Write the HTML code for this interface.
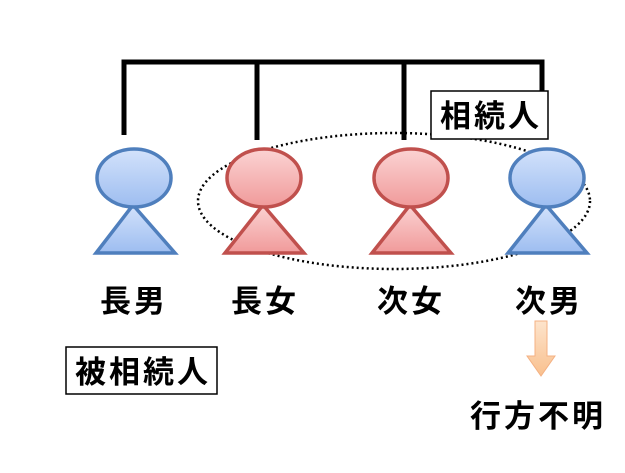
<!DOCTYPE html>
<html><head><meta charset="utf-8"><style>
html,body{margin:0;padding:0;background:#fff;}
</style></head><body>
<svg width="625" height="468" xmlns="http://www.w3.org/2000/svg" font-family="'Liberation Sans','Noto Sans CJK JP',sans-serif">
<defs>
<linearGradient id="b" x1="0" y1="0" x2="0" y2="1"><stop offset="0" stop-color="#d3e2fb"/><stop offset="1" stop-color="#9dbdf0"/></linearGradient>
<linearGradient id="r" x1="0" y1="0" x2="0" y2="1"><stop offset="0" stop-color="#fbd3d3"/><stop offset="1" stop-color="#f09a9a"/></linearGradient>
<linearGradient id="o" x1="0" y1="0" x2="0" y2="1"><stop offset="0" stop-color="#fde4cc"/><stop offset="1" stop-color="#f9c08e"/></linearGradient>
</defs>
<g stroke="#000" stroke-width="5" fill="none">
<path d="M124 135 V62 H542 V100"/>
<path d="M257 62 V140"/>
<path d="M404 62 V140"/>
</g>
<ellipse cx="394" cy="201" rx="196" ry="68" fill="none" stroke="#000" stroke-width="2.5" stroke-dasharray="2 3"/>
<g stroke-width="3.5">
<polygon points="133,205 96,253 175,253" fill="url(#b)" stroke="#4f7fbd"/>
<ellipse cx="134" cy="178" rx="37" ry="29" fill="url(#b)" stroke="#4f7fbd"/>
<polygon points="263,205 225,253 304,253" fill="url(#r)" stroke="#c0504d"/>
<ellipse cx="264" cy="178" rx="37" ry="29" fill="url(#r)" stroke="#c0504d"/>
<polygon points="410,205 372,253 451,253" fill="url(#r)" stroke="#c0504d"/>
<ellipse cx="411" cy="178" rx="37" ry="29" fill="url(#r)" stroke="#c0504d"/>
<polygon points="546,205 508,253 587,253" fill="url(#b)" stroke="#4f7fbd"/>
<ellipse cx="547" cy="178" rx="37" ry="29" fill="url(#b)" stroke="#4f7fbd"/>
</g>
<rect x="431" y="91" width="117" height="48" fill="#fff" stroke="#000" stroke-width="1.5"/>
<rect x="66" y="347" width="151" height="47" fill="#fff" stroke="#000" stroke-width="1.5"/>
<g font-size="31" font-weight="bold" text-anchor="middle" letter-spacing="3">
<text x="491" y="127">相続人</text>
<text x="143" y="383">被相続人</text>
<text x="134" y="312">長男</text>
<text x="265" y="312">長女</text>
<text x="411" y="312">次女</text>
<text x="549" y="312">次男</text>
<text x="538" y="427">行方不明</text>
</g>
<polygon points="535,321 547,321 547,356 555,356 541,376 527,356 535,356" fill="url(#o)" stroke="#f4b183" stroke-width="1"/>
</svg>
</body></html>
